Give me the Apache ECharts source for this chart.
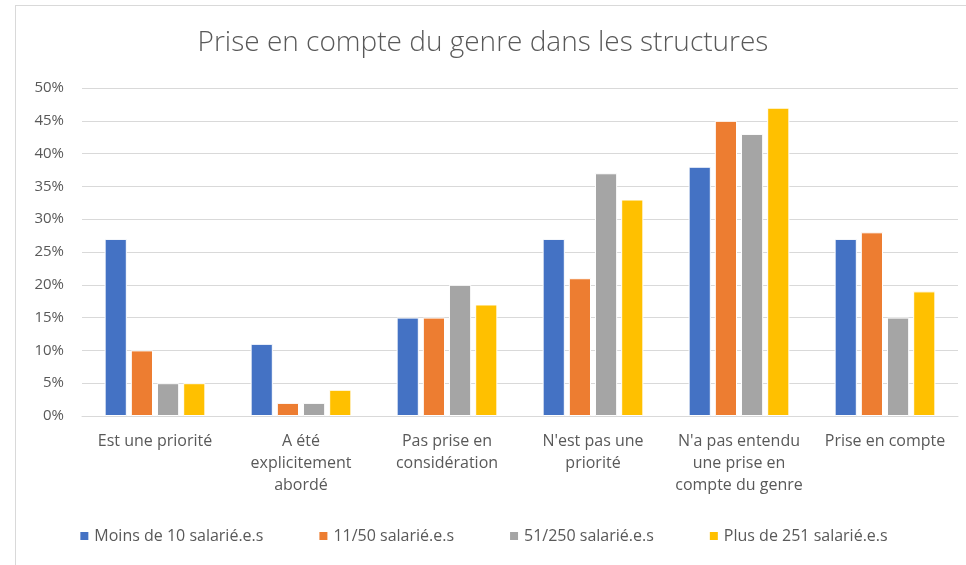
<!DOCTYPE html>
<html>
<head>
<meta charset="utf-8">
<script src="https://cdn.jsdelivr.net/npm/echarts@6/dist/echarts.min.js"></script>
<style>
  body { margin: 0; background: #fff; }
  #frame { position: absolute; left: 15px; top: 5px; width: 960px; height: 570px; border: 1px solid #d9d9d9; box-sizing: border-box; }
  #main { position: absolute; left: 0; top: 0; width: 966px; height: 565px; }
</style>
</head>
<body>
<div id="frame"></div>
<div id="main"></div>
<script>
const categories = [
  "Est une priorité",
  "A été\nexplicitement\nabordé",
  "Pas prise en\nconsidération",
  "N'est pas une\npriorité",
  "N'a pas entendu\nune prise en\ncompte du genre",
  "Prise en compte"
];
const seriesNames = ["Moins de 10 salarié.e.s", "11/50 salarié.e.s", "51/250 salarié.e.s", "Plus de 251 salarié.e.s"];
const moins10 = [27, 11, 15, 27, 38, 27];
const de11a50 = [10, 2, 15, 21, 45, 28];
const de51a250 = [5, 2, 20, 37, 43, 15];
const plus251 = [5, 4, 17, 33, 47, 19];
const colors = ["#4472c4", "#ed7d31", "#a5a5a5", "#ffc000"];

const font = "'Open Sans', sans-serif";
const chart = echarts.init(document.getElementById("main"));
const values = [moins10, de11a50, de51a250, plus251];

chart.setOption({
  animation: false,
  title: {
    text: "Prise en compte du genre dans les structures",
    left: "center",
    top: 24,
    textStyle: { color: "#595959", fontSize: 28, fontWeight: 300, fontFamily: font }
  },
  grid: { left: 82, right: 8, top: 88, bottom: 149 },
  legend: {
    bottom: 16,
    left: "center",
    itemWidth: 10,
    itemHeight: 10,
    itemGap: 54,
    icon: "rect",
    textStyle: { color: "#595959", fontSize: 16, fontFamily: font },
    data: seriesNames
  },
  xAxis: {
    type: "category",
    data: categories,
    axisLine: { lineStyle: { color: "#d9d9d9" } },
    axisTick: { show: false },
    axisLabel: { color: "#595959", fontSize: 16, lineHeight: 22, margin: 14, fontFamily: font, interval: 0 }
  },
  yAxis: {
    type: "value",
    min: 0,
    max: 50,
    interval: 5,
    axisLabel: { formatter: "{value}%", color: "#595959", fontSize: 15, fontFamily: font, margin: 18 },
    splitLine: { lineStyle: { color: "#d9d9d9" } }
  },
  series: values.map((v, i) => ({
    name: seriesNames[i],
    type: "bar",
    data: v,
    barGap: "18%",
    barCategoryGap: "31%",
    itemStyle: { color: colors[i], borderColor: "#fff", borderWidth: 1 }
  }))
});
</script>
</body>
</html>
